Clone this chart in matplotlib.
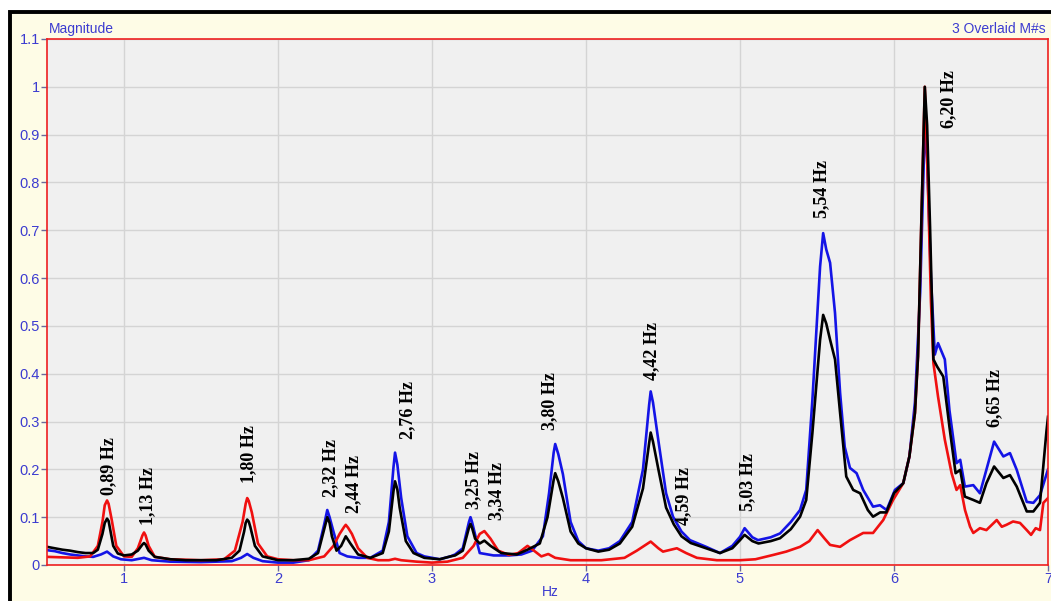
import matplotlib.pyplot as plt
from matplotlib.patches import Rectangle

# magnitude spectra of the three overlaid measurements
black_hz = [0.50, 0.55, 0.60, 0.65, 0.70, 0.75, 0.80, 0.83, 0.86, 0.875, 0.89, 0.90, 0.91,
            0.93, 0.96, 1.00, 1.05, 1.09, 1.12, 1.13, 1.14, 1.16, 1.20, 1.30, 1.40, 1.50,
            1.60, 1.70, 1.75, 1.78, 1.79, 1.80, 1.81, 1.82, 1.85, 1.90, 2.00, 2.10, 2.20,
            2.26, 2.30, 2.32, 2.335, 2.35, 2.38, 2.41, 2.44, 2.47, 2.52, 2.60, 2.68, 2.72,
            2.75, 2.76, 2.775, 2.79, 2.83, 2.88, 2.95, 3.05, 3.12, 3.15, 3.20, 3.24, 3.25,
            3.26, 3.28, 3.31, 3.34, 3.38, 3.45, 3.55, 3.62, 3.70, 3.75, 3.79, 3.80, 3.82,
            3.85, 3.90, 3.95, 4.00, 4.08, 4.15, 4.22, 4.30, 4.37, 4.41, 4.42, 4.435, 4.47,
            4.52, 4.57, 4.62, 4.68, 4.78, 4.87, 4.95, 5.00, 5.03, 5.08, 5.12, 5.20, 5.26,
            5.33, 5.39, 5.43, 5.47, 5.52, 5.54, 5.56, 5.585, 5.617, 5.65, 5.69, 5.735, 5.78,
            5.83, 5.864, 5.91, 5.95, 6.00, 6.06, 6.10, 6.136, 6.156, 6.18, 6.20, 6.215,
            6.234, 6.256, 6.28, 6.32, 6.36, 6.40, 6.43, 6.46, 6.515, 6.558, 6.60, 6.65,
            6.71, 6.753, 6.797, 6.862, 6.905, 6.948, 6.99, 7.00]
black_mag = [0.038, 0.035, 0.032, 0.030, 0.027, 0.025, 0.025, 0.032, 0.065, 0.088, 0.097,
             0.092, 0.075, 0.040, 0.024, 0.020, 0.022, 0.030, 0.043, 0.046, 0.043, 0.030,
             0.017, 0.012, 0.010, 0.010, 0.010, 0.015, 0.030, 0.070, 0.088, 0.095, 0.091,
             0.080, 0.040, 0.018, 0.010, 0.010, 0.013, 0.025, 0.075, 0.100, 0.088, 0.060,
             0.030, 0.040, 0.060, 0.045, 0.022, 0.015, 0.025, 0.070, 0.155, 0.175, 0.158,
             0.120, 0.050, 0.025, 0.015, 0.012, 0.018, 0.020, 0.030, 0.078, 0.086, 0.078,
             0.055, 0.045, 0.051, 0.040, 0.025, 0.022, 0.032, 0.045, 0.100, 0.178, 0.192,
             0.175, 0.140, 0.070, 0.045, 0.035, 0.028, 0.032, 0.045, 0.080, 0.160, 0.255,
             0.277, 0.258, 0.200, 0.120, 0.085, 0.060, 0.046, 0.035, 0.025, 0.035, 0.052,
             0.063, 0.050, 0.045, 0.050, 0.056, 0.075, 0.101, 0.136, 0.276, 0.471, 0.523,
             0.505, 0.471, 0.430, 0.318, 0.185, 0.157, 0.150, 0.115, 0.101, 0.110, 0.110,
             0.150, 0.171, 0.227, 0.318, 0.436, 0.750, 1.000, 0.920, 0.708, 0.430, 0.415,
             0.394, 0.289, 0.192, 0.199, 0.143, 0.136, 0.130, 0.171, 0.206, 0.182, 0.188,
             0.164, 0.112, 0.112, 0.130, 0.280, 0.310]

blue_hz = [0.50, 0.55, 0.60, 0.65, 0.70, 0.75, 0.80, 0.85, 0.89, 0.93, 0.98, 1.05, 1.13,
           1.18, 1.30, 1.50, 1.70, 1.76, 1.80, 1.84, 1.90, 2.00, 2.10, 2.20, 2.26, 2.30,
           2.32, 2.335, 2.36, 2.40, 2.45, 2.52, 2.60, 2.68, 2.72, 2.75, 2.76, 2.775, 2.80,
           2.84, 2.90, 2.95, 3.05, 3.12, 3.15, 3.20, 3.24, 3.25, 3.26, 3.29, 3.31, 3.40,
           3.50, 3.58, 3.65, 3.72, 3.76, 3.79, 3.80, 3.82, 3.85, 3.90, 3.95, 4.00, 4.08,
           4.15, 4.22, 4.30, 4.37, 4.41, 4.42, 4.435, 4.47, 4.52, 4.565, 4.62, 4.675, 4.78,
           4.87, 4.95, 5.00, 5.03, 5.08, 5.117, 5.20, 5.26, 5.33, 5.39, 5.43, 5.47, 5.52,
           5.54, 5.56, 5.585, 5.617, 5.65, 5.68, 5.714, 5.757, 5.80, 5.864, 5.909, 5.952,
           6.006, 6.06, 6.10, 6.136, 6.17, 6.20, 6.215, 6.24, 6.265, 6.286, 6.33, 6.36,
           6.406, 6.43, 6.46, 6.515, 6.558, 6.60, 6.65, 6.71, 6.753, 6.797, 6.862, 6.905,
           6.948, 7.00]
blue_mag = [0.031, 0.029, 0.025, 0.022, 0.020, 0.018, 0.017, 0.022, 0.028, 0.018, 0.012,
            0.010, 0.015, 0.010, 0.007, 0.006, 0.008, 0.015, 0.023, 0.015, 0.008, 0.005,
            0.005, 0.010, 0.030, 0.085, 0.115, 0.100, 0.070, 0.025, 0.018, 0.015, 0.015,
            0.030, 0.090, 0.205, 0.235, 0.210, 0.140, 0.060, 0.025, 0.018, 0.012, 0.018,
            0.022, 0.035, 0.090, 0.100, 0.090, 0.050, 0.025, 0.020, 0.020, 0.022, 0.030,
            0.060, 0.150, 0.235, 0.253, 0.232, 0.190, 0.090, 0.050, 0.035, 0.030, 0.035,
            0.050, 0.090, 0.200, 0.335, 0.363, 0.340, 0.260, 0.150, 0.101, 0.070, 0.052,
            0.038, 0.025, 0.040, 0.059, 0.077, 0.058, 0.052, 0.058, 0.066, 0.090, 0.115,
            0.157, 0.345, 0.624, 0.694, 0.660, 0.632, 0.527, 0.360, 0.247, 0.203, 0.192,
            0.157, 0.122, 0.125, 0.115, 0.157, 0.171, 0.227, 0.340, 0.570, 0.920, 0.850,
            0.600, 0.440, 0.464, 0.430, 0.324, 0.213, 0.220, 0.164, 0.167, 0.150, 0.199,
            0.258, 0.227, 0.234, 0.199, 0.132, 0.130, 0.146, 0.200]

red_hz = [0.50, 0.60, 0.70, 0.78, 0.83, 0.86, 0.875, 0.89, 0.90, 0.92, 0.95, 1.00, 1.05,
          1.09, 1.12, 1.13, 1.14, 1.16, 1.20, 1.30, 1.50, 1.65, 1.72, 1.77, 1.79, 1.80,
          1.81, 1.83, 1.87, 1.93, 2.00, 2.10, 2.20, 2.30, 2.36, 2.40, 2.43, 2.44, 2.455,
          2.48, 2.52, 2.58, 2.65, 2.72, 2.76, 2.80, 2.90, 3.00, 3.10, 3.20, 3.27, 3.31,
          3.34, 3.38, 3.43, 3.50, 3.56, 3.62, 3.67, 3.71, 3.755, 3.80, 3.90, 4.10, 4.25,
          4.33, 4.42, 4.47, 4.50, 4.59, 4.65, 4.72, 4.85, 5.00, 5.10, 5.215, 5.30, 5.39,
          5.45, 5.504, 5.55, 5.585, 5.65, 5.714, 5.80, 5.864, 5.93, 5.994, 6.06, 6.10,
          6.136, 6.156, 6.18, 6.20, 6.22, 6.24, 6.256, 6.286, 6.33, 6.374, 6.406, 6.43,
          6.461, 6.494, 6.515, 6.558, 6.60, 6.667, 6.70, 6.73, 6.773, 6.818, 6.862, 6.89,
          6.92, 6.948, 6.97, 7.00]
red_mag = [0.017, 0.016, 0.015, 0.018, 0.040, 0.090, 0.125, 0.135, 0.128, 0.095, 0.040,
           0.018, 0.017, 0.035, 0.062, 0.068, 0.062, 0.040, 0.017, 0.012, 0.010, 0.012,
           0.030, 0.090, 0.128, 0.140, 0.134, 0.110, 0.045, 0.018, 0.012, 0.010, 0.010,
           0.018, 0.040, 0.065, 0.080, 0.084, 0.078, 0.065, 0.035, 0.015, 0.010, 0.010,
           0.013, 0.010, 0.007, 0.005, 0.007, 0.015, 0.040, 0.065, 0.071, 0.055, 0.030,
           0.021, 0.025, 0.040, 0.028, 0.018, 0.023, 0.015, 0.010, 0.010, 0.015, 0.030,
           0.049, 0.035, 0.028, 0.035, 0.025, 0.015, 0.010, 0.010, 0.012, 0.021, 0.028,
           0.038, 0.050, 0.073, 0.055, 0.042, 0.038, 0.052, 0.067, 0.067, 0.094, 0.136,
           0.171, 0.227, 0.318, 0.436, 0.750, 1.000, 0.800, 0.550, 0.422, 0.352, 0.262,
           0.192, 0.157, 0.167, 0.115, 0.080, 0.067, 0.077, 0.073, 0.094, 0.080, 0.084,
           0.091, 0.088, 0.073, 0.063, 0.077, 0.073, 0.130, 0.140]

# picked peak frequencies and where their labels sit
peak_hz = [0.89, 1.13, 1.80, 2.32, 2.44, 2.76, 3.25, 3.34, 3.80, 4.42, 4.59, 5.03, 5.54, 6.20, 6.65]
label_x = [0.903, 1.153, 1.812, 2.342, 2.493, 2.841, 3.271, 3.418, 3.766, 4.429, 4.632, 5.049, 5.53, 6.357, 6.656]
label_y = [0.146, 0.084, 0.171, 0.143, 0.108, 0.263, 0.117, 0.094, 0.282, 0.387, 0.084, 0.112, 0.726, 0.913, 0.289]

W, H = 1051, 601
fig = plt.figure(figsize=(W / 100, H / 100), dpi=100)
fig.patch.set_facecolor('white')

# cream panel with heavy black frame
fig.add_artist(Rectangle((10 / W, -0.1), 1.1, 1 - 12 / H + 0.1, transform=fig.transFigure,
                         facecolor='#fefce6', edgecolor='black', linewidth=2.8, zorder=0))

ax = fig.add_axes([47 / W, (H - 565) / H, (1048 - 47) / W, (565 - 39) / H])
ax.set_facecolor('#f0f0f0')

ax.plot(blue_hz, blue_mag, color='#1414e6', lw=1.9)
ax.plot(red_hz, red_mag, color='#f01010', lw=1.9)
ax.plot(black_hz, black_mag, color='black', lw=1.9)

ax.set_xlim(0.5, 7.0)
ax.set_ylim(0, 1.1)
ax.set_xticks(range(1, 8))
yt = [i / 10 for i in range(12)]
ax.set_yticks(yt)
ax.set_yticklabels(['0' if v == 0 else ('1' if v == 1 else f'{v:.1f}') for v in yt])
ax.grid(True, color='#d4d4d4', lw=1)
ax.set_axisbelow(True)
for s in ax.spines.values():
    s.set_color('#ee2020')
    s.set_linewidth(1.2)
ax.tick_params(colors='#6a6a9a', labelcolor='#3c3cd0', length=4, width=1, pad=1,
               labelsize=10.5)
for lab in ax.get_xticklabels() + ax.get_yticklabels():
    lab.set_family('Liberation Sans')

for f, tx, ty in zip(peak_hz, label_x, label_y):
    ax.text(tx, ty, f'{f:.2f}'.replace('.', ',') + ' Hz', rotation=90, ha='center',
            va='bottom', family='Liberation Serif', fontweight='bold', fontsize=13)

fig.text(49 / W, 1 - 29 / H, 'Magnitude', color='#3c3cd0', fontsize=10,
         family='Liberation Sans', va='center', ha='left')
fig.text(1046 / W, 1 - 29 / H, '3 Overlaid M#s', color='#3c3cd0', fontsize=10,
         family='Liberation Sans', va='center', ha='right')
fig.text(550 / W, 1 - 592 / H, 'Hz', color='#3c3cd0', fontsize=10,
         family='Liberation Sans', va='center', ha='center')

fig.savefig('out.png', dpi=100)
